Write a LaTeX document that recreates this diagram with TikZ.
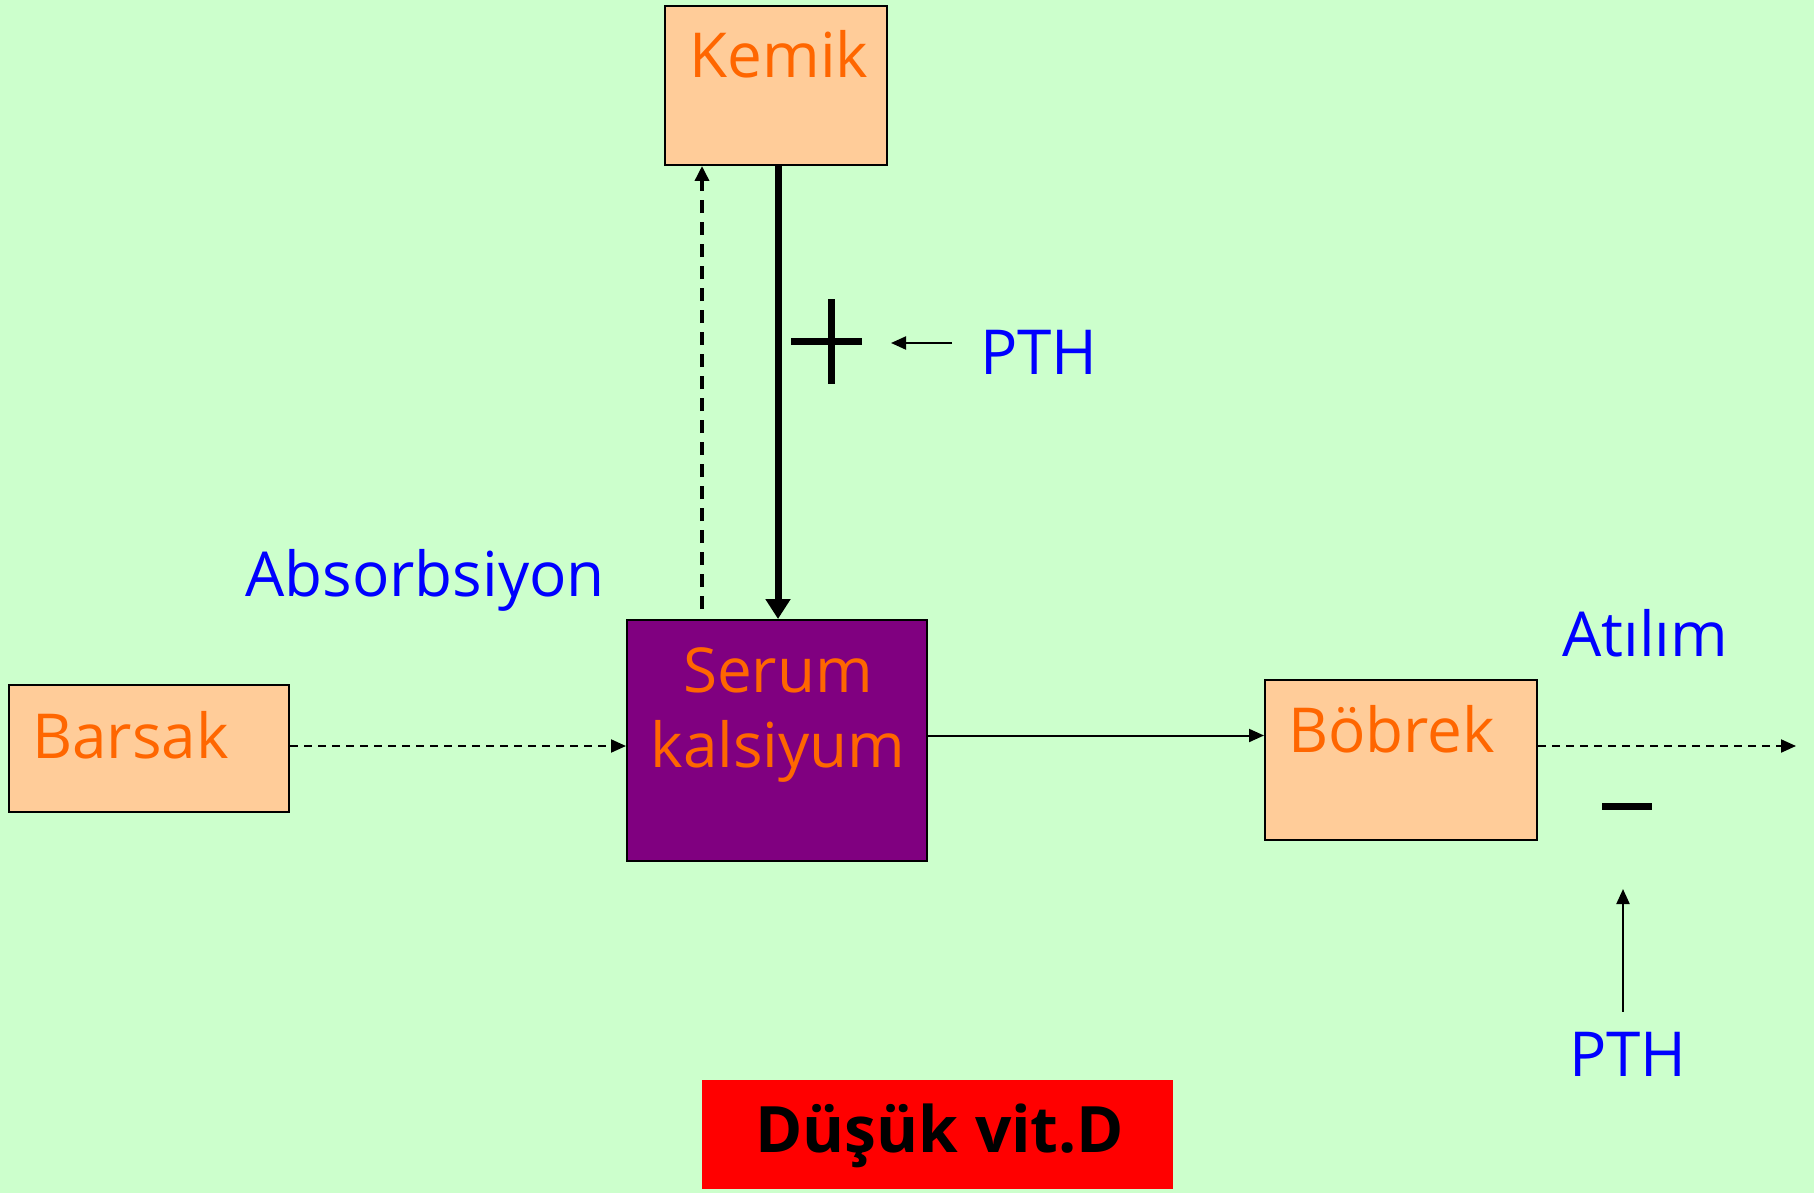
\documentclass[tikz,border=0pt]{standalone}
\usepackage{fontspec}
\setmainfont{Open Sans}
\usetikzlibrary{arrows.meta}
\definecolor{bg}{HTML}{CCFFCC}
\definecolor{peach}{HTML}{FFCC99}
\definecolor{labelorange}{HTML}{FF6600}
\definecolor{serumfill}{HTML}{800080}
\definecolor{pthblue}{HTML}{0000FF}
\definecolor{alertred}{HTML}{FF0000}
\begin{document}
\begin{tikzpicture}[x=1pt,y=-1pt,
  organ/.style={draw=black,line width=2pt,fill=peach,inner sep=0pt},
  bigtext/.style={inner sep=0pt,font=\fontsize{62}{72}\selectfont},
  orangetext/.style={bigtext,text=labelorange},
  bluetext/.style={bigtext,text=pthblue},
  thinarrow/.style={line width=2pt,-{Triangle[length=15pt,width=13pt]}},
  dasharrow/.style={thinarrow,dash pattern=on 8pt off 6pt},
  signbar/.style={line width=7pt}]
% page background
\fill[bg] (0,0) rectangle (1814,1193);
\useasboundingbox (0,0) rectangle (1814,1193);

% organ boxes
\node[organ,minimum width=222pt,minimum height=159pt] (kemik) at (776,85.5) {};
\node[organ,fill=serumfill,minimum width=300pt,minimum height=241pt] (serum) at (777,740.5) {};
\node[organ,minimum width=280pt,minimum height=127pt] (barsak) at (149,748.5) {};
\node[organ,minimum width=272pt,minimum height=160pt] (bobrek) at (1401,760) {};
\node[fill=alertred,inner sep=0pt,minimum width=471pt,minimum height=109pt] (vitd) at (937.5,1134.5) {};

% box labels
\node[orangetext,anchor=base] (kemiklbl) at (779,78) {Kemik};
\node[orangetext,anchor=base] (serumlbl) at (778,692) {Serum};
\node[orangetext,anchor=base] (kalsiyumlbl) at (778,767) {kalsiyum};
\node[orangetext,anchor=base west] (barsaklbl) at (32,758) {Barsak};
\node[orangetext,anchor=base west] (bobreklbl) at (1288,752) {Böbrek};
\node[bigtext,anchor=base,font=\fontsize{64}{72}\selectfont\bfseries] (vitdlbl) at (940,1152) {Düşük vit.D};

% blue labels
\node[bluetext,anchor=base west] (absorb) at (245,596) {Absorbsiyon};
\node[bluetext,anchor=base west] (atilim) at (1562,656) {Atılım};
\node[bluetext,anchor=base west] (pthtop) at (980,374) {PTH};
\node[bluetext,anchor=base] (pthbottom) at (1628,1076) {PTH};

% free arrow ends
\coordinate (plushead) at (891,343);
\coordinate (minushead) at (1623,889);
\coordinate (outflow) at (1796,746);

% calcium flows
\draw[dasharrow] ([yshift=2.5pt]barsak.east) -- ([yshift=2.5pt]barsak.east -| serum.west);
\draw[thinarrow] ([yshift=5pt]serum.east) -- ([yshift=5pt]serum.east -| bobrek.west);
\draw[dasharrow] ([yshift=14pt]bobrek.east) -- (outflow);
\draw[line width=3.5pt,dash pattern=on 13pt off 9pt,-{Triangle[length=15pt,width=14pt]}]
  ([xshift=-75pt,yshift=10pt]serum.north) -- ([xshift=-74pt]kemik.south);
\draw[line width=7pt,-{Triangle[length=20pt,width=24pt]}]
  ([xshift=2pt]kemik.south) -- ([xshift=1pt]serum.north);

% PTH effects
\draw[thinarrow] ([xshift=-28pt]pthtop.west |- plushead) -- (plushead);
\draw[signbar] (791,341) -- (862,341);
\draw[signbar] (831,299) -- (831,384);
\draw[thinarrow] ([xshift=-5pt,yshift=20pt]pthbottom.north) -- (minushead);
\draw[signbar] (1602,806) -- (1652,806);
\end{tikzpicture}
\end{document}
